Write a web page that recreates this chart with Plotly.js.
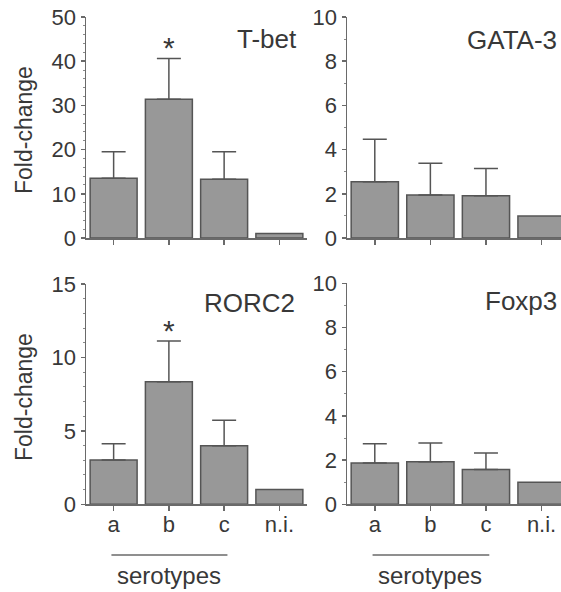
<!DOCTYPE html>
<html>
<head>
<meta charset="utf-8">
<script src="https://cdn.plot.ly/plotly-3.0.1.min.js"></script>
<style>html,body{margin:0;padding:0;background:#fff;}#chart{width:561px;height:592px;}</style>
</head>
<body>
<div id="chart"></div>
<script>
// ---- data ----
var categories = ['a', 'b', 'c', 'n.i.'];
var tbetMean  = [13.5, 31.4, 13.3, 1.0];
var tbetTop   = [19.5, 40.6, 19.5, null];
var gataMean  = [2.55, 1.95, 1.91, 1.0];
var gataTop   = [4.47, 3.38, 3.14, null];
var rorcMean  = [3.02, 8.35, 3.99, 1.0];
var rorcTop   = [4.13, 11.12, 5.72, null];
var foxpMean  = [1.87, 1.93, 1.58, 1.0];
var foxpTop   = [2.74, 2.77, 2.32, null];
var panelNames = ['T-bet', 'GATA-3', 'RORC2', 'Foxp3'];
var yTicksTbet = [0, 10, 20, 30, 40, 50];
var yTicksRorc = [0, 5, 10, 15];
var yTicksTen  = [0, 2, 4, 6, 8, 10];
var axisTitle = 'Fold-change';
var groupLabel = 'serotypes';
var sigMark = '*';

var textCol = '#383838';
var axisCol = '#6a6a6a';
var barFill = '#989898';
var barLine = '#555555';
var fontFam = 'Liberation Sans, Arial, sans-serif';

function errPlus(mean, top) {
  return mean.map(function (m, i) { return top[i] === null ? NaN : top[i] - m; });
}
function errMinus(mean, top) {
  return mean.map(function (m, i) { return top[i] === null ? NaN : 0; });
}
function barTrace(mean, top, xa, ya) {
  return {
    type: 'bar', x: categories, y: mean, xaxis: xa, yaxis: ya, width: 0.85,
    marker: {color: barFill, line: {color: barLine, width: 1.5}},
    error_y: {type: 'data', symmetric: false, array: errPlus(mean, top),
              arrayminus: errMinus(mean, top), color: barLine, thickness: 1.5, width: 12},
    hoverinfo: 'skip', showlegend: false
  };
}

var data = [
  barTrace(tbetMean, tbetTop, 'x', 'y'),
  barTrace(gataMean, gataTop, 'x2', 'y2'),
  barTrace(rorcMean, rorcTop, 'x3', 'y3'),
  barTrace(foxpMean, foxpTop, 'x4', 'y4')
];

function xAxis(dom, anchor, right, labels) {
  return {
    domain: dom, anchor: anchor, type: 'category', range: [-0.5, right],
    showline: true, linecolor: axisCol, linewidth: 1.5, ticks: 'outside', ticklen: 5,
    tickcolor: axisCol, tickwidth: 1.5, showticklabels: labels, showgrid: false, zeroline: false,
    ticklabelstandoff: -5,
    tickfont: {family: fontFam, size: 22, color: textCol}, fixedrange: true
  };
}
function yAxis(dom, anchor, rng, tv, mdt) {
  return {
    domain: dom, anchor: anchor, range: rng, tickvals: tv, ticktext: tv.map(String),
    showline: true, linecolor: axisCol, linewidth: 1.5, ticks: 'outside', ticklen: 4,
    tickcolor: axisCol, tickwidth: 1.5, showgrid: false, zeroline: false,
    minor: {ticks: 'outside', ticklen: 2, dtick: mdt, tickcolor: '#8a8a8a', tickwidth: 1},
    tickfont: {family: fontFam, size: 22, color: textCol}, fixedrange: true
  };
}

var xL = [86 / 561, 307 / 561], xR = [347 / 561, 1];
var yT = [354 / 592, 575 / 592], yB = [87.7 / 592, 308 / 592], yB4 = [87.7 / 592, 308.7 / 592];

var ann = [];
function label(txt, xref, x, y) {
  ann.push({text: txt, xref: xref, yref: 'paper', x: x, y: y, xanchor: 'right', yanchor: 'middle',
            showarrow: false, font: {family: fontFam, size: 26, color: textCol}});
}
label(panelNames[0], 'paper', 299 / 561, (592 - 39) / 592);
label(panelNames[1], 'paper', 559 / 561, (592 - 40) / 592);
label(panelNames[2], 'paper', 297 / 561, (592 - 303) / 592);
label(panelNames[3], 'paper', 559 / 561, (592 - 301) / 592);

[(592 - 130) / 592, (592 - 397) / 592].forEach(function (yy) {
  ann.push({text: axisTitle, xref: 'paper', yref: 'paper', x: 24 / 561, y: yy, textangle: -90,
            xanchor: 'center', yanchor: 'middle', showarrow: false,
            font: {family: fontFam, size: 23, color: textCol}});
});
ann.push({text: sigMark, xref: 'x', yref: 'y', x: 'b', y: 44.1, yshift: -4, showarrow: false,
          xanchor: 'center', yanchor: 'middle', font: {family: fontFam, size: 30, color: textCol}});
ann.push({text: sigMark, xref: 'x3', yref: 'y3', x: 'b', y: 12.1, yshift: -4, showarrow: false,
          xanchor: 'center', yanchor: 'middle', font: {family: fontFam, size: 30, color: textCol}});
ann.push({text: groupLabel, xref: 'x3', yref: 'paper', x: 'b', y: (592 - 575) / 592, showarrow: false,
          xanchor: 'center', yanchor: 'middle', font: {family: fontFam, size: 24, color: textCol}});
ann.push({text: groupLabel, xref: 'x4', yref: 'paper', x: 'b', y: (592 - 575) / 592, showarrow: false,
          xanchor: 'center', yanchor: 'middle', font: {family: fontFam, size: 24, color: textCol}});

var shapes = [
  {type: 'line', xref: 'x3', yref: 'paper', x0: -0.04, x1: 2.06, y0: (592 - 555) / 592, y1: (592 - 555) / 592,
   line: {color: axisCol, width: 1.5}},
  {type: 'line', xref: 'x4', yref: 'paper', x0: -0.04, x1: 2.06, y0: (592 - 555) / 592, y1: (592 - 555) / 592,
   line: {color: axisCol, width: 1.5}}
];

var layout = {
  width: 561, height: 592, margin: {l: 0, r: 0, t: 0, b: 0},
  paper_bgcolor: '#ffffff', plot_bgcolor: 'rgba(0,0,0,0)', showlegend: false,
  bargap: 0, font: {family: fontFam, color: textCol},
  xaxis: xAxis(xL, 'y', 3.5, false),
  yaxis: yAxis(yT, 'x', [0, 50], yTicksTbet, 2),
  xaxis2: xAxis(xR, 'y2', 3.35, false),
  yaxis2: yAxis(yT, 'x2', [0, 10], yTicksTen, 1),
  xaxis3: xAxis(xL, 'y3', 3.5, true),
  yaxis3: yAxis(yB, 'x3', [0, 15], yTicksRorc, 1),
  xaxis4: xAxis(xR, 'y4', 3.35, true),
  yaxis4: yAxis(yB4, 'x4', [0, 10], yTicksTen, 1),
  annotations: ann, shapes: shapes
};

Plotly.newPlot('chart', data, layout, {staticPlot: true, displayModeBar: false});
</script>
</body>
</html>
